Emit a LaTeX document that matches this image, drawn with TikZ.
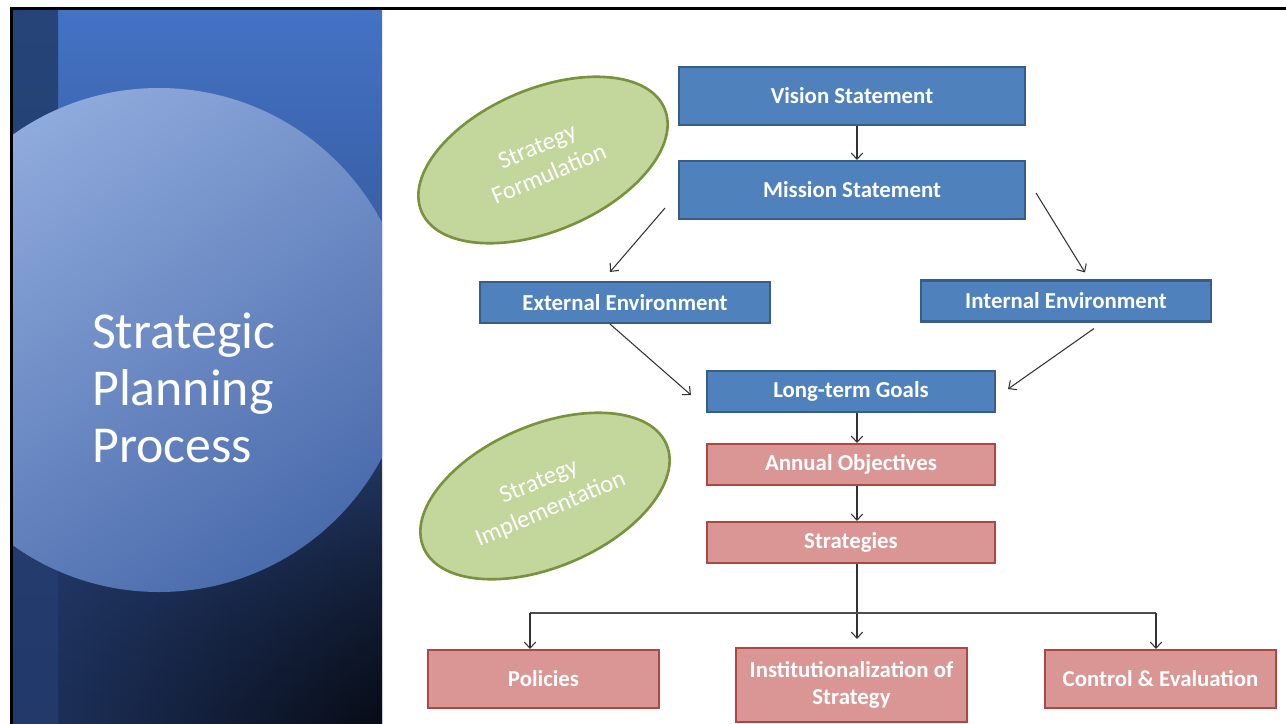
\documentclass[tikz,border=0pt]{standalone}
\usepackage{fontspec}
\setmainfont{Carlito}
\usepackage{tikz}
\usetikzlibrary{arrows.meta, calc, shapes.geometric, fadings}
\definecolor{panelblue}{RGB}{68,114,196}
\definecolor{panelmid}{RGB}{58,96,170}
\definecolor{panelnavy}{RGB}{31,52,97}
\definecolor{paneldark}{RGB}{8,12,22}
\definecolor{stripblue}{RGB}{38,68,120}
\definecolor{stripdark}{RGB}{34,57,106}
\definecolor{circlelight}{RGB}{143,170,220}
\definecolor{circledark}{RGB}{74,107,172}
\definecolor{boxblue}{RGB}{79,129,189}
\definecolor{boxblueline}{RGB}{56,93,138}
\definecolor{boxred}{RGB}{217,150,148}
\definecolor{boxredline}{RGB}{176,70,67}
\definecolor{leafgreen}{RGB}{195,214,155}
\definecolor{leafline}{RGB}{119,147,60}

\begin{document}
\begin{tikzpicture}[x=0.02cm, y=-0.02cm,
    bluebox/.style={draw=boxblueline, line width=1.2pt, fill=boxblue, text=white,
        font=\fontsize{13}{15}\selectfont\bfseries, align=center, inner sep=2pt},
    redbox/.style={bluebox, draw=boxredline, fill=boxred},
    phase/.style={ellipse, draw=leafline, line width=1.5pt, fill=leafgreen, text=white,
        font=\fontsize{14}{17}\selectfont, align=center, minimum width=5.28cm,
        minimum height=2.84cm, inner sep=0pt, rotate=23},
    arr/.style={-{Straight Barb[length=3.5pt,width=6.5pt]}, line width=0.6pt, black!80}]
    \useasboundingbox (0,0) rectangle (1286,724);
    \fill[white] (0,0) rectangle (1286,724);

    % title panel
    \shade[top color=panelblue, middle color=panelmid, bottom color=panelnavy] (13,10) rectangle (382,724);
    \shade[left color=panelnavy, right color=paneldark, path fading=north] (13,330) rectangle (382,724);
    \shade[top color=stripblue, bottom color=stripdark] (13,10) rectangle (58,724);
    \begin{scope}
        \clip (13,10) rectangle (382,724);
        \shade[top color=circlelight, middle color=circlelight!92!circledark,
            bottom color=circledark, shading angle=35] (159,340) circle[radius=252];
    \end{scope}
    \node[anchor=west, align=left, text=white, font=\fontsize{29.5}{32.4}\selectfont] (title)
        at (86,388) {Strategic\\Planning\\Process};

    % frame
    \draw[line width=0.06cm] (10,8.5) -- (1286,8.5);
    \draw[line width=0.06cm] (11.5,7) -- (11.5,724);

    % phases
    \node[phase] (formulation) at (543,160) {Strategy\\Formulation};
    \node[phase] (implementation) at (545,496) {Strategy\\Implementation};

    % formulation boxes
    \node[bluebox, minimum width=6.92cm, minimum height=1.16cm] (vision) at (852,96) {Vision Statement};
    \node[bluebox, minimum width=6.92cm, minimum height=1.16cm] (mission) at (852,190) {Mission Statement};
    \node[bluebox, minimum width=5.8cm, minimum height=0.82cm] (external) at (625,302.5) {External Environment};
    \node[bluebox, minimum width=5.8cm, minimum height=0.82cm] (internal) at (1066,301) {Internal Environment};
    \node[bluebox, minimum width=5.76cm, minimum height=0.82cm] (goals) at (851,391.5) {Long-term Goals};

    % implementation boxes
    \node[redbox, minimum width=5.76cm, minimum height=0.82cm] (annual) at (851,464.5) {Annual Objectives};
    \node[redbox, minimum width=5.76cm, minimum height=0.82cm] (strategies) at (851,542.5) {Strategies};
    \node[redbox, minimum width=4.62cm, minimum height=1.16cm] (policies) at (543.5,679) {Policies};
    \node[redbox, minimum width=4.62cm, minimum height=1.48cm] (institution) at (851.5,685) {Institutionalization of\\Strategy};
    \node[redbox, minimum width=4.62cm, minimum height=1.16cm] (control) at (1160.5,679) {Control \& Evaluation};

    \coordinate (spine) at (857,0);
    \coordinate (busleft) at (530,613);
    \coordinate (busright) at (1156,613);

    % arrows
    \draw[arr] (vision.south -| spine) -- (mission.north -| spine);
    \draw[arr] ($(mission.south west)+(-13,-12)$) -- ($(external.north)+(-15,-9)$);
    \draw[arr] ($(mission.east)+(10,3)$) -- ($(internal.north)+(19,-7)$);
    \draw[arr] ($(external.south)+(-15,0)$) -- ($(goals.west)+(-15,3.5)$);
    \draw[arr] ($(internal.south)+(28,6)$) -- ($(goals.east)+(12,-2.5)$);
    \draw[arr] (goals.south -| spine) -- (annual.north -| spine);
    \draw[arr] (annual.south -| spine) -- (strategies.north -| spine);
    \draw[arr] (strategies.south -| spine) -- ($(institution.north -| spine)+(0,-8)$);
    \draw[line width=0.8pt, black!70] (busleft) -- (busright);
    \draw[arr] (busleft) -- (busleft |- policies.north);
    \draw[arr] (busright) -- (busright |- control.north);
\end{tikzpicture}
\end{document}
